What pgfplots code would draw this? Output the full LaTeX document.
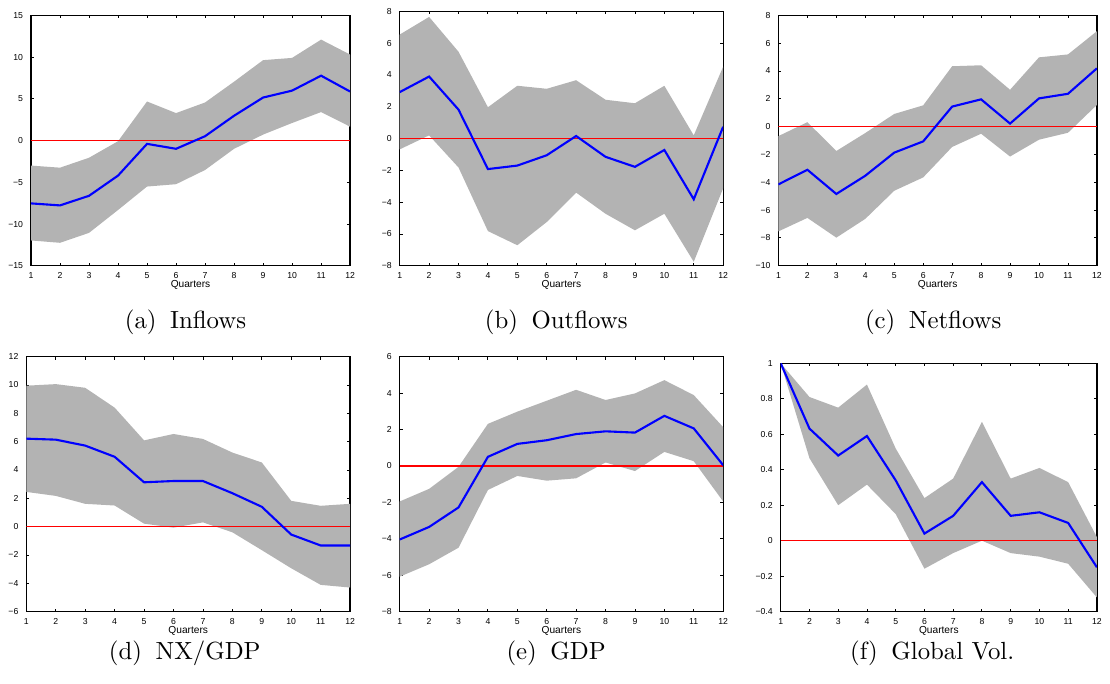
\documentclass[border=0pt]{standalone}
\usepackage{fontspec}
\usepackage{pgfplots}
\usepackage{pgfplotstable}
\pgfplotsset{compat=1.18}
\usepgfplotslibrary{fillbetween}
\newfontfamily\helv{Liberation Sans}
\definecolor{bandgray}{RGB}{179,179,179}

\pgfplotstableread{
x lo mean hi
1 -11.97 -7.53 -3.00
2 -12.25 -7.77 -3.25
3 -11.06 -6.62 -2.06
4 -8.32 -4.20 -0.08
5 -5.51 -0.40 4.68
6 -5.23 -0.99 3.29
7 -3.53 0.52 4.56
8 -0.99 2.97 7.05
9 0.71 5.15 9.63
10 2.10 5.98 9.90
11 3.41 7.77 12.09
12 1.66 5.87 10.30
}\tA
\pgfplotstableread{
x lo mean hi
1 -0.68 2.92 6.54
2 0.20 3.90 7.65
3 -1.82 1.82 5.46
4 -5.82 -1.92 1.97
5 -6.71 -1.70 3.32
6 -5.25 -1.05 3.13
7 -3.40 0.16 3.67
8 -4.73 -1.15 2.44
9 -5.77 -1.78 2.22
10 -4.73 -0.72 3.32
11 -7.75 -3.82 0.20
12 -3.13 0.74 4.52
}\tB
\pgfplotstableread{
x lo mean hi
1 -7.53 -4.15 -0.68
2 -6.56 -3.10 0.32
3 -7.98 -4.84 -1.75
4 -6.63 -3.53 -0.46
5 -4.61 -1.87 0.91
6 -3.65 -1.06 1.53
7 -1.46 1.44 4.34
8 -0.51 1.96 4.41
9 -2.15 0.22 2.65
10 -0.94 2.03 4.98
11 -0.44 2.36 5.19
12 1.56 4.19 6.86
}\tC
\pgfplotstableread{
x lo mean hi
1 2.45 6.21 9.95
2 2.17 6.14 10.06
3 1.61 5.72 9.80
4 1.49 4.93 8.40
5 0.21 3.13 6.09
6 -0.07 3.22 6.54
7 0.30 3.22 6.19
8 -0.40 2.36 5.23
9 -1.66 1.40 4.53
10 -2.94 -0.56 1.82
11 -4.11 -1.33 1.47
12 -4.30 -1.33 1.61
}\tD
\pgfplotstableread{
x lo mean hi
1 -6.08 -4.04 -1.95
2 -5.40 -3.35 -1.26
3 -4.49 -2.28 -0.05
4 -1.32 0.50 2.31
5 -0.55 1.21 2.98
6 -0.81 1.41 3.58
7 -0.68 1.75 4.18
8 0.19 1.90 3.62
9 -0.28 1.83 3.98
10 0.77 2.75 4.71
11 0.26 2.06 3.89
12 -1.95 0.04 2.13
}\tE
\pgfplotstableread{
x lo mean hi
1 1.00 1.00 1.00
2 0.465 0.632 0.81
3 0.20 0.48 0.75
4 0.316 0.59 0.88
5 0.15 0.34 0.52
6 -0.158 0.04 0.24
7 -0.07 0.14 0.35
8 0.00 0.33 0.67
9 -0.07 0.14 0.35
10 -0.09 0.16 0.41
11 -0.13 0.10 0.33
12 -0.32 -0.15 0.02
}\tF

\pgfplotsset{
  irf/.style={
    scale only axis, anchor=south west,
    xmin=1, xmax=12, xtick={1,...,12},
    tick align=inside, tick pos=both, ticklabel pos=left,
    major tick length=1.2pt,
    tick style={black, line width=0.35pt},
    axis line style={black, line width=0.5pt},
    tick label style={font=\helv\fontsize{3.5}{4}\selectfont},
    /pgf/number format/assume math mode=true,
    xticklabel style={yshift=0.9pt},
    yticklabel style={xshift=0.3pt},
    xlabel={Quarters},
    xlabel style={font=\helv\fontsize{4.1}{5}\selectfont, at={(axis description cs:0.5,0)}, anchor=center, yshift=-7.9pt},
  },
}

\newcommand{\irfplots}[2]{%
  \addplot[name path=U, draw=none] table[x=x, y=hi] {#1};
  \addplot[name path=L, draw=none] table[x=x, y=lo] {#1};
  \addplot[bandgray, draw=none] fill between[of=U and L];
  \addplot[color=red, line width=#2] coordinates {(1,0) (12,0)};
  \addplot[color=blue, line width=0.85pt] table[x=x, y=mean] {#1};
}

\begin{document}
\begin{tikzpicture}
\path (0,0) rectangle (444pt,-274.8pt);

% (a) Inflows
\begin{axis}[irf, at={(10.68pt,-106.28pt)}, width=128.64pt, height=100.96pt,
  ymin=-15, ymax=15, ytick={-15,-10,...,15},
  yticklabels={−15,−10,−5,0,5,10,15}]
\irfplots{\tA}{0.5pt}
\end{axis}

% (b) Outflows
\begin{axis}[irf, at={(159.32pt,-106.28pt)}, width=130.4pt, height=102.56pt,
  ymin=-8, ymax=8, ytick={-8,-6,...,8},
  yticklabels={−8,−6,−4,−2,0,2,4,6,8}]
\irfplots{\tB}{0.5pt}
\end{axis}

% (c) Netflows
\begin{axis}[irf, at={(312pt,-106.28pt)}, width=128.4pt, height=100.96pt,
  ymin=-10, ymax=8, ytick={-10,-8,...,8},
  yticklabels={−10,−8,−6,−4,−2,0,2,4,6,8}]
\irfplots{\tC}{0.5pt}
\end{axis}

% (d) NX/GDP
\begin{axis}[irf, at={(8.8pt,-245.72pt)}, width=130.52pt, height=102.8pt,
  ymin=-6, ymax=12, ytick={-6,-4,...,12},
  yticklabels={−6,−4,−2,0,2,4,6,8,10,12}]
\irfplots{\tD}{0.5pt}
\end{axis}

% (e) GDP
\begin{axis}[irf, at={(159.32pt,-245.72pt)}, width=130.4pt, height=102.8pt,
  ymin=-8, ymax=6, ytick={-8,-6,...,6},
  yticklabels={−8,−6,−4,−2,0,2,4,6}]
\irfplots{\tE}{0.75pt}
\end{axis}

% (f) Global Vol.
\begin{axis}[irf, at={(312.92pt,-245.72pt)}, width=127.48pt, height=100.12pt,
  ymin=-0.4, ymax=1, ytick={-0.4,-0.2,0,0.2,0.4,0.6,0.8,1},
  yticklabels={−0.4,−0.2,0,0.2,0.4,0.6,0.8,1}]
\irfplots{\tF}{0.5pt}
\end{axis}

\node[anchor=base, font=\fontsize{10}{12}\selectfont] at (72.96pt,-131.6pt) {(a)\hspace{5.5pt}Inflows};
\node[anchor=base, font=\fontsize{10}{12}\selectfont] at (222.4pt,-131.6pt) {(b)\hspace{5.5pt}Outflows};
\node[anchor=base, font=\fontsize{10}{12}\selectfont] at (374.4pt,-131.6pt) {(c)\hspace{5.5pt}Netflows};
\node[anchor=base, font=\fontsize{10}{12}\selectfont] at (72.68pt,-265.2pt) {(d)\hspace{5.5pt}NX/GDP};
\node[anchor=base, font=\fontsize{10}{12}\selectfont] at (222.4pt,-265.2pt) {(e)\hspace{5.5pt}GDP};
\node[anchor=base, font=\fontsize{10}{12}\selectfont] at (374pt,-265.2pt) {(f)\hspace{5.5pt}Global Vol.};
\end{tikzpicture}
\end{document}
